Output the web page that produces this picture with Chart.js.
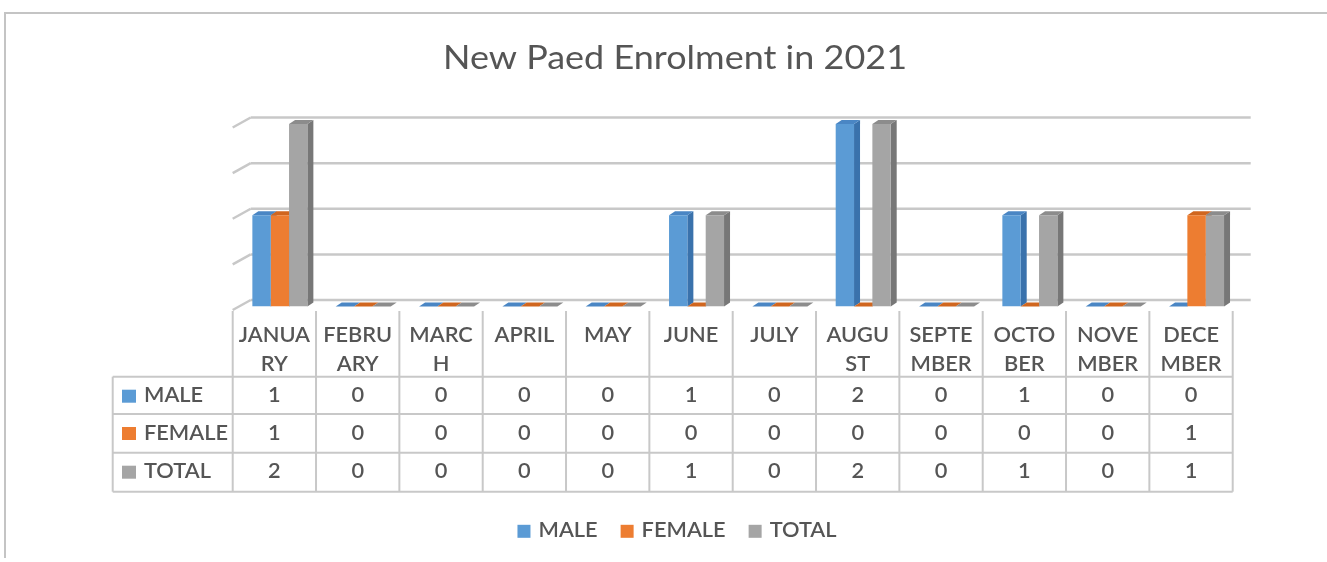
<!DOCTYPE html>
<html>
<head>
<meta charset="utf-8">
<script src="https://cdn.jsdelivr.net/npm/chart.js@4.4.1/dist/chart.umd.min.js"></script>
<style>
  html, body { margin: 0; padding: 0; background: #ffffff; }
  #wrap { width: 1327px; height: 562px; }
</style>
</head>
<body>
<div id="wrap"><canvas id="c" width="1327" height="562"></canvas></div>
<script>
// ---- data ----
const chartTitle = "New Paed Enrolment in 2021";
const categories = ["JANUARY","FEBRUARY","MARCH","APRIL","MAY","JUNE","JULY","AUGUST","SEPTEMBER","OCTOBER","NOVEMBER","DECEMBER"];
const categoryLabels = [["JANUA","RY"],["FEBRU","ARY"],["MARC","H"],["APRIL"],["MAY"],["JUNE"],["JULY"],["AUGU","ST"],["SEPTE","MBER"],["OCTO","BER"],["NOVE","MBER"],["DECE","MBER"]];
const seriesNames = ["MALE","FEMALE","TOTAL"];
const maleValues   = [1,0,0,0,0,1,0,2,0,1,0,0];
const femaleValues = [1,0,0,0,0,0,0,0,0,0,0,1];
const totalValues  = [2,0,0,0,0,1,0,2,0,1,0,1];
const yTicks = [0, 0.5, 1, 1.5, 2];

// ---- style ----
const FRONT = ["#5B9BD5", "#ED7D31", "#A5A5A5"];
const SIDE  = ["#3A72AC", "#B5561A", "#777777"];
const TOP   = ["#4A86C4", "#D0661F", "#8C8C8C"];
const TEXT  = "#555555";
const LINE  = "#c8c8c8";
const FONT  = "Lato, 'Open Sans', sans-serif";
const SHIFT = 5.5;     // bars sit right of table columns (3D perspective)
const DX = 6, DY = -4; // bar depth
const WALL_DX = 18, WALL_DY = -6.5;

function drawScaled(ctx, text, x, y, align, sx) {
  const w = ctx.measureText(text).width * sx;
  const left = align === 'center' ? x - w / 2 : (align === 'right' ? x - w : x);
  ctx.save();
  ctx.translate(left, y);
  ctx.scale(sx, 1);
  ctx.textAlign = 'left';
  ctx.textBaseline = 'alphabetic';
  ctx.fillText(text, 0, 0);
  ctx.restore();
  return w;
}
function poly(ctx, pts, color) {
  ctx.beginPath();
  ctx.moveTo(pts[0][0], pts[0][1]);
  for (let i = 1; i < pts.length; i++) ctx.lineTo(pts[i][0], pts[i][1]);
  ctx.closePath();
  ctx.fillStyle = color;
  ctx.fill();
}
function line(ctx, x1, y1, x2, y2) {
  ctx.beginPath(); ctx.moveTo(x1, y1); ctx.lineTo(x2, y2); ctx.stroke();
}

const threeD = {
  id: 'threeD',
  beforeDatasetsDraw(chart) {
    const ctx = chart.ctx, ys = chart.scales.y, ca = chart.chartArea;
    const frontLeft = ca.left - SHIFT, frontRight = ca.right - SHIFT;
    ctx.save();
    // frame
    ctx.strokeStyle = "#c4c4c4"; ctx.lineWidth = 2;
    line(ctx, 4, 13, 1327, 13);
    line(ctx, 5, 13, 5, 558);
    // back wall gridlines + side wall diagonals
    ctx.strokeStyle = LINE; ctx.lineWidth = 2.5;
    yTicks.forEach(v => {
      const yf = ys.getPixelForValue(v);
      const yb = yf + WALL_DY;
      line(ctx, frontLeft + WALL_DX, yb, frontRight + WALL_DX, yb);
      line(ctx, frontLeft, yf + 3.5, frontLeft + WALL_DX, yb);
    });
    // bar sides and tops, category by category, left to right
    const metas = [0, 1, 2].map(d => chart.getDatasetMeta(d));
    for (let i = 0; i < categories.length; i++) {
      for (let d = 0; d < 3; d++) {
        const p = metas[d].data[i].getProps(['x', 'y', 'base', 'width'], true);
        const x0 = p.x - p.width / 2, x1 = p.x + p.width / 2;
        const yt = Math.min(p.y, p.base), yb = p.base;
        if (yb - yt > 0.5) {
          poly(ctx, [[x1, yt], [x1 + DX, yt + DY], [x1 + DX, yb + DY], [x1, yb]], SIDE[d]);
        }
        poly(ctx, [[x0, yt], [x1, yt], [x1 + DX, yt + DY], [x0 + DX, yt + DY]], TOP[d]);
      }
    }
    ctx.restore();
  },
  afterDraw(chart) {
    const ctx = chart.ctx, xs = chart.scales.x, ca = chart.chartArea;
    const colW = ca.width / categories.length;
    const tableLeft = 112.7, colLeft = ca.left - SHIFT, tableRight = ca.right - SHIFT;
    const headTop = 311, rowTops = [376.7, 414, 452.7, 491.7];
    ctx.save();
    // title
    ctx.fillStyle = TEXT;
    ctx.font = "33px " + FONT;
    const tsx = 464 / ctx.measureText(chartTitle).width;
    drawScaled(ctx, chartTitle, 675, 69, 'center', tsx);

    // table lines
    ctx.strokeStyle = LINE; ctx.lineWidth = 2;
    rowTops.forEach(y => line(ctx, tableLeft, y, tableRight, y));
    line(ctx, tableLeft, rowTops[0], tableLeft, rowTops[3]);
    for (let i = 0; i <= categories.length; i++) {
      const x = colLeft + i * colW;
      line(ctx, x, headTop, x, rowTops[3]);
    }
    // table text
    ctx.font = "600 21px " + FONT;
    const sx = 71.4 / ctx.measureText("JANUA").width;
    ctx.fillStyle = TEXT;
    for (let i = 0; i < categories.length; i++) {
      const cx = xs.getPixelForValue(i) - SHIFT;
      categoryLabels[i].forEach((t, k) => drawScaled(ctx, t, cx, 341.7 + k * 29.3, 'center', sx));
    }
    const rows = [maleValues, femaleValues, totalValues];
    rows.forEach((vals, r) => {
      const base = rowTops[r] + 25.5;
      ctx.fillStyle = FRONT[r];
      ctx.fillRect(122, base - 12.5, 14, 13);
      ctx.fillStyle = TEXT;
      drawScaled(ctx, seriesNames[r], 144, base, 'left', sx);
      vals.forEach((v, i) => {
        const cx = xs.getPixelForValue(i) - SHIFT;
        drawScaled(ctx, String(v), cx, base, 'center', sx);
      });
    });

    // legend
    const sq = 13, gapIn = 8, gapOut = 23;
    const widths = seriesNames.map(n => ctx.measureText(n).width * sx);
    const total = widths.reduce((a, w) => a + sq + gapIn + w, 0) + gapOut * (seriesNames.length - 1);
    let lx = 677 - total / 2;
    const lb = 537.3;
    seriesNames.forEach((n, k) => {
      ctx.fillStyle = FRONT[k];
      ctx.fillRect(lx, lb - 12.5, sq, sq);
      lx += sq + gapIn;
      ctx.fillStyle = TEXT;
      drawScaled(ctx, n, lx, lb, 'left', sx);
      lx += widths[k] + gapOut;
    });
    ctx.restore();
  }
};

new Chart(document.getElementById('c'), {
  type: 'bar',
  data: {
    labels: categories,
    datasets: [
      { label: seriesNames[0], data: maleValues,   backgroundColor: FRONT[0] },
      { label: seriesNames[1], data: femaleValues, backgroundColor: FRONT[1] },
      { label: seriesNames[2], data: totalValues,  backgroundColor: FRONT[2] }
    ]
  },
  options: {
    responsive: false,
    animation: false,
    layout: { padding: { left: 238.2, right: 1327 - 1238.2, top: 124, bottom: 562 - 306.5 } },
    datasets: { bar: { categoryPercentage: 0.66, barPercentage: 1.0, borderWidth: 0 } },
    scales: {
      x: { display: false, offset: true, grid: { display: false } },
      y: { display: false, min: 0, max: 2, grid: { display: false } }
    },
    plugins: {
      legend: { display: false },
      title: { display: false },
      tooltip: { enabled: false }
    }
  },
  plugins: [threeD]
});
</script>
</body>
</html>
